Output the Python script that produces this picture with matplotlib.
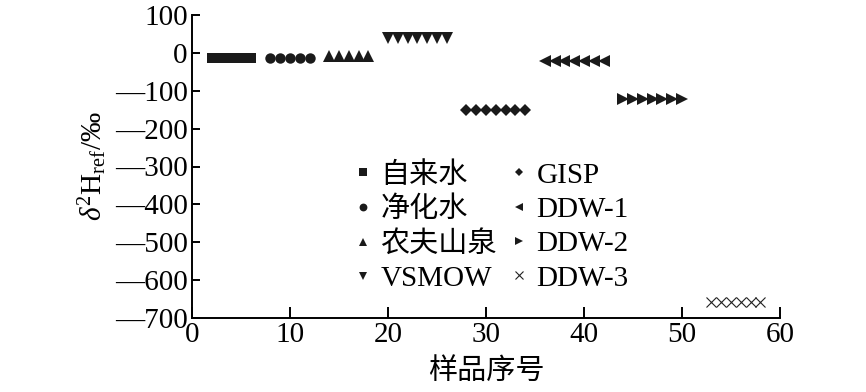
import matplotlib
matplotlib.use("Agg")
import matplotlib.pyplot as plt
from matplotlib.ticker import FuncFormatter

plt.rcParams['font.family'] = ['Liberation Serif', 'Noto Sans CJK SC']
plt.rcParams['mathtext.fontset'] = 'custom'
plt.rcParams['mathtext.rm'] = 'Liberation Serif'
plt.rcParams['mathtext.it'] = 'Liberation Serif:italic'

# ---- data ----
names = ['自来水', '净化水', '农夫山泉', 'VSMOW', 'GISP', 'DDW-1', 'DDW-2', 'DDW-3']
x_tap = [2, 3, 4, 5, 6]
y_tap = [-14, -14, -14, -14, -14]
x_pur = [8, 9, 10, 11, 12]
y_pur = [-14, -14, -14, -14, -14]
x_nf = [14, 15, 16, 17, 18]
y_nf = [-7, -7, -7, -7, -7]
x_vsmow = [20, 21, 22, 23, 24, 25, 26]
y_vsmow = [38, 38, 38, 38, 38, 38, 38]
x_gisp = [28, 29, 30, 31, 32, 33, 34]
y_gisp = [-151, -151, -151, -151, -151, -151, -151]
x_ddw1 = [36, 37, 38, 39, 40, 41, 42]
y_ddw1 = [-21, -21, -21, -21, -21, -21, -21]
x_ddw2 = [44, 45, 46, 47, 48, 49, 50]
y_ddw2 = [-122, -122, -122, -122, -122, -122, -122]
x_ddw3 = [53, 54, 55, 56, 57, 58]
y_ddw3 = [-659, -659, -659, -659, -659, -659]

xticks = [0, 10, 20, 30, 40, 50, 60]
yticks = [100, 0, -100, -200, -300, -400, -500, -600, -700]
xlabel = '样品序号'
ylabel = r'$\mathit{\delta}^{2}\mathrm{H}_{\mathrm{ref}}$/‰'

series = [
    (x_tap, y_tap, 's', 7.5),
    (x_pur, y_pur, 'o', 7.5),
    (x_nf, y_nf, '^', 8),
    (x_vsmow, y_vsmow, 'v', 8),
    (x_gisp, y_gisp, 'D', 6),
    (x_ddw1, y_ddw1, '<', 8),
    (x_ddw2, y_ddw2, '>', 8),
    (x_ddw3, y_ddw3, 'x', 7),
]

fig = plt.figure(figsize=(8.66, 3.92), dpi=100)
ax = fig.add_axes([192/866, 1-318/392, (780-192)/866, (318-15)/392])

for (xs, ys, m, ms), name in zip(series, names):
    if m == 'x':
        ax.plot(xs, ys, linestyle='none', marker=m, markersize=ms, color='#222222',
                markeredgewidth=0.8, label=name)
    else:
        ax.plot(xs, ys, linestyle='none', marker=m, markersize=ms, color='#1a1a1a',
                markeredgewidth=0, label=name)

ax.set_xlim(0, 60)
ax.set_ylim(-700, 100)
ax.set_xticks(xticks)
ax.set_yticks(yticks)
ax.yaxis.set_major_formatter(FuncFormatter(lambda v, p: ('—%d' % abs(v)) if v < 0 else '%d' % v))
for s in ['top', 'right']:
    ax.spines[s].set_visible(False)
for s in ['left', 'bottom']:
    ax.spines[s].set_linewidth(1.4)
ax.tick_params(axis='both', direction='in', width=1.4, labelsize=21, pad=3)
ax.tick_params(axis='x', length=8)
ax.tick_params(axis='y', length=6)

ax.set_xlabel(xlabel, fontsize=21, labelpad=7)
ax.set_ylabel(ylabel, fontsize=21, labelpad=4)

leg = ax.legend(ncol=2, frameon=False, fontsize=21, markerscale=0.75,
                handlelength=0.8, handletextpad=0.2, columnspacing=0.35,
                labelspacing=0.27, loc='center',
                bbox_to_anchor=(490/866, 1-227/392), bbox_transform=fig.transFigure,
                borderpad=0)

fig.savefig('out.png', dpi=100)
